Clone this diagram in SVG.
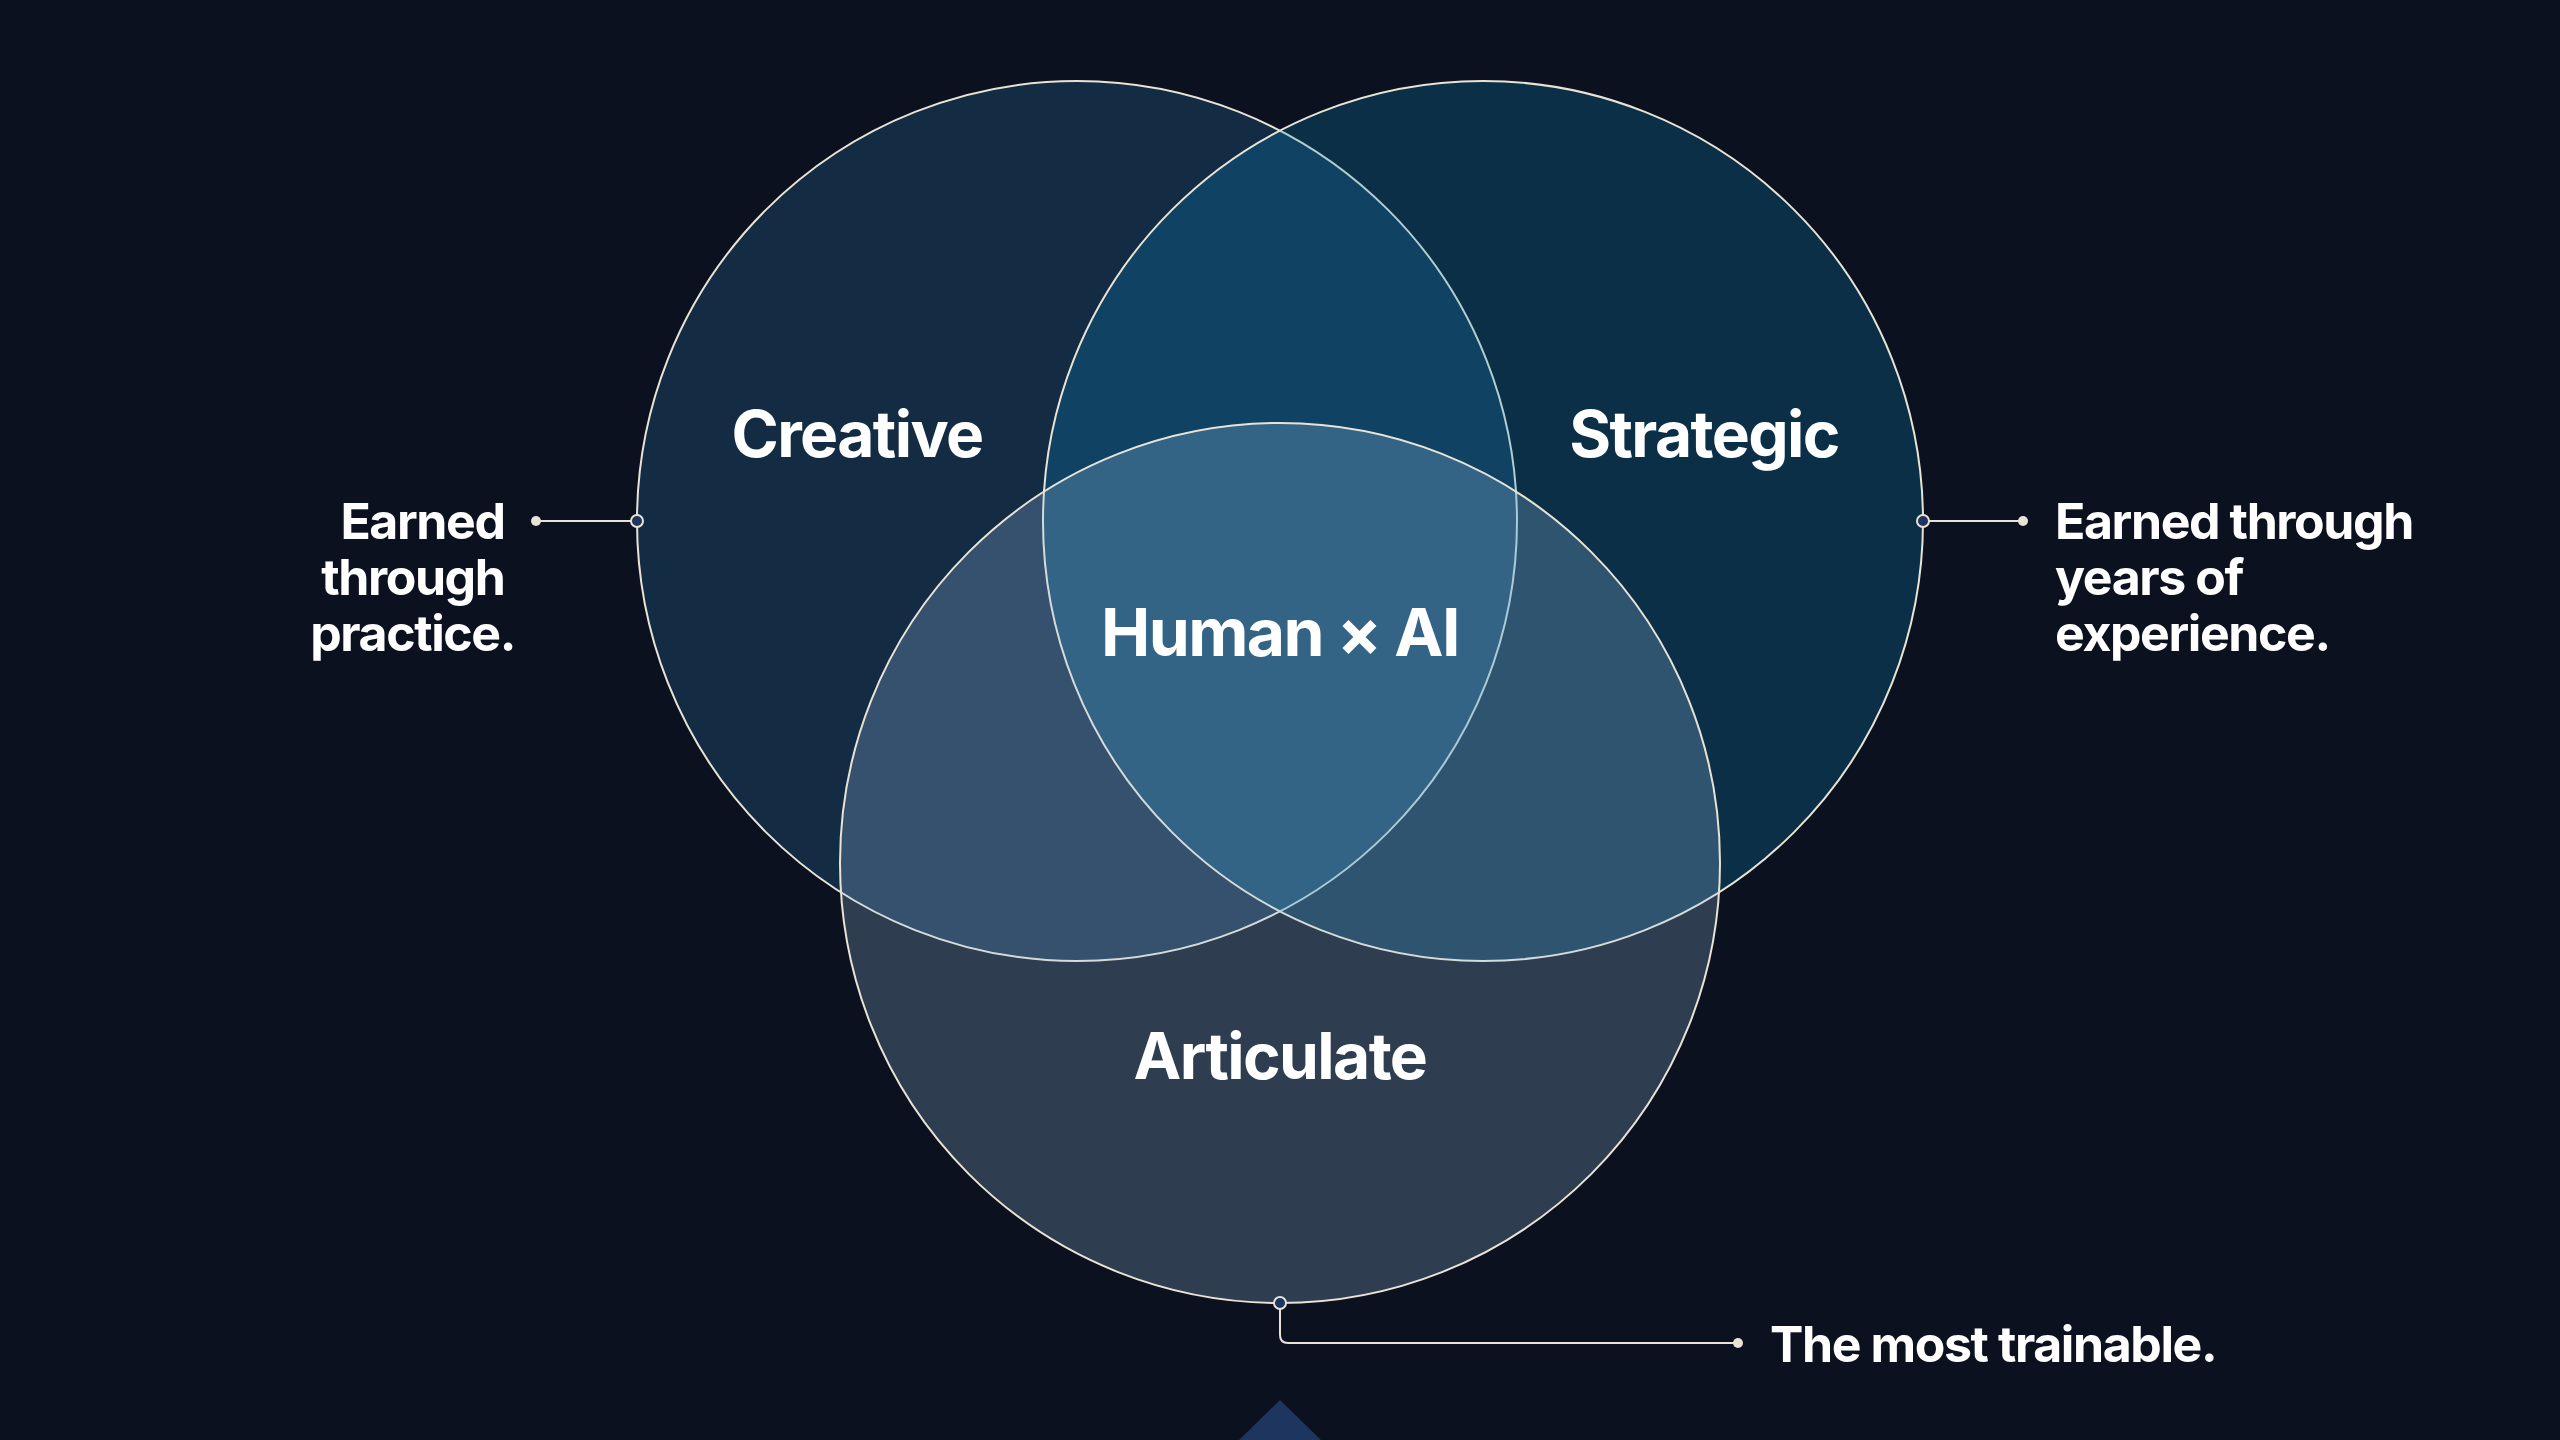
<svg xmlns="http://www.w3.org/2000/svg" width="2560" height="1440" viewBox="0 0 2560 1440">
  <style>
    .ring { stroke: #e9e3d5; stroke-width: 2; fill-opacity: 0.25; }
    .big { font-family: Inter, "Liberation Sans", sans-serif; font-weight: 700; font-size: 64px; fill: #ffffff; text-anchor: middle; letter-spacing: -1.6px; }
    .note { font-family: Inter, "Liberation Sans", sans-serif; font-weight: 700; font-size: 50px; fill: #ffffff; letter-spacing: -1.4px; }
    .wire { stroke: #e9e3d5; stroke-width: 2; fill: none; }
    .anchor { fill: #1e3560; stroke: #e9e3d5; stroke-width: 2; }
    .tip { fill: #e9e3d5; }
  </style>
  <rect x="0" y="0" width="2560" height="1440" fill="#0b111e"/>

  <g id="creative">
    <circle class="ring" cx="1077" cy="521" r="440" fill="#2b7db2"/>
    <text class="big" x="857" y="457">Creative</text>
  </g>
  <g id="strategic">
    <circle class="ring" cx="1483" cy="521" r="440" fill="#078dc2"/>
    <text class="big" x="1704" y="457">Strategic</text>
  </g>
  <g id="articulate">
    <circle class="ring" cx="1280" cy="863" r="440" fill="#9bc5ea"/>
    <text class="big" x="1280" y="1079">Articulate</text>
  </g>
  <g id="human-ai">
    <text class="big" x="1280" y="656" style="font-size:66px">Human × AI</text>
  </g>

  <g id="connectors">
    <line class="wire" x1="536" y1="521" x2="637" y2="521"/>
    <circle class="tip" cx="536" cy="521" r="5"/>
    <circle class="anchor" cx="637" cy="521" r="6"/>

    <line class="wire" x1="1923" y1="521" x2="2023" y2="521"/>
    <circle class="tip" cx="2023" cy="521" r="5"/>
    <circle class="anchor" cx="1923" cy="521" r="6"/>

    <path class="wire" d="M1280 1303 V1335 Q1280 1343 1288 1343 H1738"/>
    <circle class="tip" cx="1738" cy="1343" r="5"/>
    <circle class="anchor" cx="1280" cy="1303" r="6"/>
  </g>

  <g id="note-creative">
    <text class="note" text-anchor="end">
      <tspan x="515" y="539">Earned</tspan>
      <tspan x="515" y="595">through</tspan>
      <tspan x="515" y="651">practice.</tspan>
    </text>
  </g>
  <g id="note-strategic">
    <text class="note">
      <tspan x="2055" y="539">Earned through</tspan>
      <tspan x="2055" y="595">years of</tspan>
      <tspan x="2055" y="651">experience.</tspan>
    </text>
  </g>
  <g id="note-articulate">
    <text class="note" x="1770" y="1362">The most trainable.</text>
  </g>

  <g id="marker-bottom">
    <polygon points="1238,1441 1280,1400 1322,1441" fill="#1e3560"/>
  </g>
</svg>
